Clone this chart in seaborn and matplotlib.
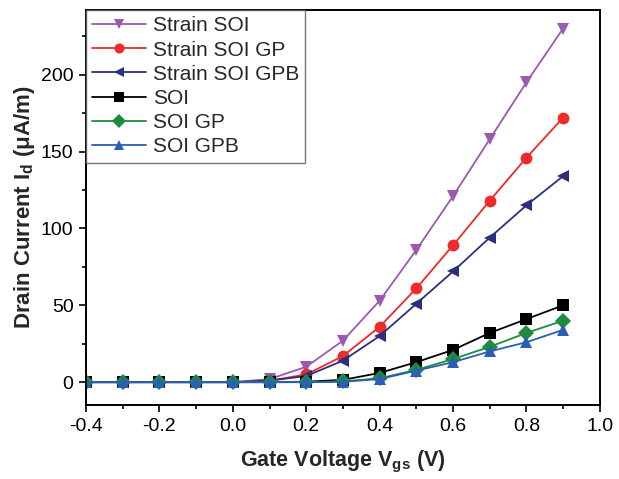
import numpy as np
import pandas as pd
import matplotlib
matplotlib.use("Agg")
import matplotlib.pyplot as plt
from matplotlib.ticker import MultipleLocator
import seaborn as sns

vgs = [-0.4, -0.3, -0.2, -0.1, 0.0, 0.1, 0.2, 0.3, 0.4, 0.5, 0.6, 0.7, 0.8, 0.9]
strain_soi = [0, 0, 0, 0, 0, 2, 10, 27, 53, 86, 121, 158, 195, 230]
strain_soi_gp = [0, 0, 0, 0, 0, 1, 5, 17, 36, 61, 89, 118, 146, 172]
strain_soi_gpb = [0, 0, 0, 0, 0, 1, 4, 14, 30, 51, 72, 94, 115, 134]
soi = [0, 0, 0, 0, 0, 0, 0.3, 1.5, 6, 13, 21, 32, 41, 50]
soi_gp = [0, 0, 0, 0, 0, 0, 0, 0.5, 2.5, 8, 15, 23, 32, 40]
soi_gpb = [0, 0, 0, 0, 0, 0, 0, 0.3, 2, 7.5, 13, 20, 26, 34]

names = ["Strain SOI", "Strain SOI GP", "Strain SOI GPB", "SOI", "SOI GP", "SOI GPB"]
series = [strain_soi, strain_soi_gp, strain_soi_gpb, soi, soi_gp, soi_gpb]
colors = ["#9B59B0", "#EE2A2A", "#2B2F7E", "#000000", "#1E8C3C", "#2B5EB5"]
markers = ["v", "o", "<", "s", "D", "^"]

df = pd.DataFrame({
    "Vgs": np.tile(vgs, len(names)),
    "Id": np.concatenate(series),
    "device": np.repeat(names, len(vgs)),
})

sns.set_style("ticks")
plt.rcParams["font.family"] = ["Liberation Sans", "DejaVu Sans"]

fig = plt.figure(figsize=(6.19, 4.79), dpi=100)
ax = fig.add_axes([0.139, 0.154, 0.830, 0.825])

sns.lineplot(data=df, x="Vgs", y="Id", hue="device", style="device",
             hue_order=names, style_order=names,
             palette=dict(zip(names, colors)),
             markers=dict(zip(names, markers)), dashes=False,
             markersize=8.5, markeredgewidth=0, linewidth=1.3, ax=ax)

ax.set_xlim(-0.4, 1.0)
ax.set_ylim(-15, 242)
ax.xaxis.set_major_locator(MultipleLocator(0.2))
ax.xaxis.set_minor_locator(MultipleLocator(0.1))
ax.yaxis.set_major_locator(MultipleLocator(50))
ax.yaxis.set_minor_locator(MultipleLocator(25))
ax.set_xticklabels([f"{v:.1f}" for v in ax.get_xticks()])
ax.tick_params(axis="both", which="major", direction="out", length=5, width=1.2,
               labelsize=14, color="black", labelcolor="black", pad=4)
ax.tick_params(axis="both", which="minor", direction="out", length=3, width=1.2,
               color="black")
for s in ax.spines.values():
    s.set_visible(True)
    s.set_linewidth(1.4)
    s.set_color("black")

ax.set_xlabel(r"Gate Voltage V$_{\mathregular{gs}}$ (V)", fontsize=15.5,
              fontweight="bold", labelpad=10)
ax.set_ylabel(r"Drain Current I$_{\mathregular{d}}$ ($\mathregular{\mu}$A/m)",
              fontsize=16, fontweight="bold", labelpad=3)

handles, labels = ax.get_legend_handles_labels()
leg = ax.legend(handles, labels, loc="upper left", borderaxespad=0,
                fontsize=15, frameon=True, fancybox=False, handlelength=2.6,
                handletextpad=0.3, labelspacing=0.25, borderpad=0.3,
                markerscale=0.85)
leg.get_frame().set_edgecolor("#555555")
leg.get_frame().set_linewidth(1.0)

fig.savefig("out.png", dpi=100)
